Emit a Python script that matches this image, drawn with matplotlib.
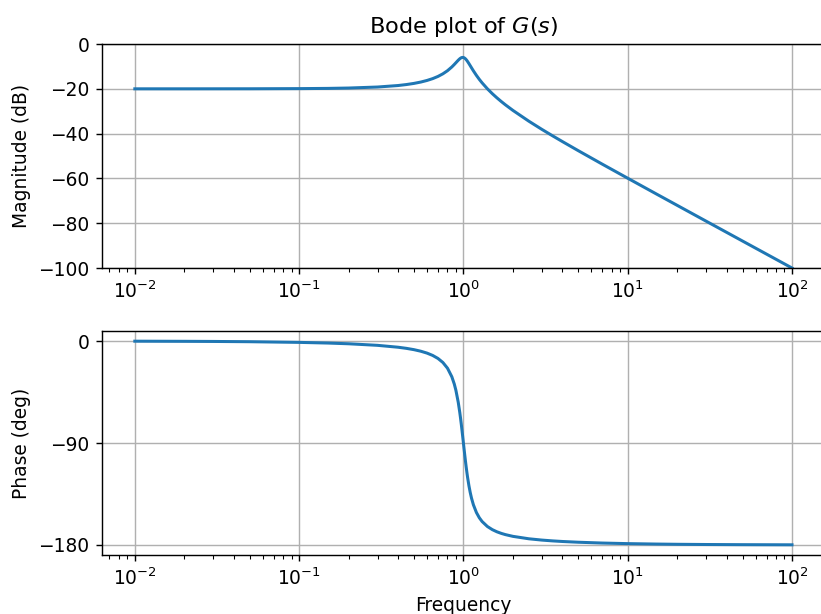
import matplotlib
matplotlib.use("Agg")
import matplotlib.pyplot as plt

# Values
freq = [0.01, 0.02, 0.03, 0.05, 0.1, 0.15, 0.2, 0.3, 0.4, 0.45, 0.5, 0.55,
        0.6, 0.65, 0.7, 0.75, 0.8, 0.85, 0.88, 0.9, 0.93, 0.95, 0.96, 0.97,
        0.98, 0.99, 1.0, 1.01, 1.02, 1.03, 1.04, 1.05, 1.06, 1.08, 1.1, 1.12,
        1.15, 1.2, 1.25, 1.3, 1.4, 1.5, 1.6, 1.7, 1.8, 2.0, 2.5, 3.0, 3.5,
        4.0, 5.0, 7.0, 10.0, 15.0, 20.0, 30.0, 50.0, 100.0]
mag_db = [-20.0, -20.0, -19.99, -19.98, -19.91, -19.81, -19.65, -19.20,
          -18.53, -18.09, -17.58, -16.98, -16.27, -15.45, -14.47, -13.30,
          -11.91, -10.25, -9.13, -8.36, -7.23, -6.59, -6.34, -6.14, -6.02,
          -5.98, -6.02, -6.15, -6.36, -6.64, -6.98, -7.37, -7.80, -8.71,
          -9.66, -10.60, -11.96, -14.00, -15.79, -17.35, -20.00, -22.18,
          -24.04, -25.67, -27.12, -29.62, -34.44, -38.09, -41.04, -43.53,
          -47.61, -53.63, -59.91, -67.01, -72.02, -79.08, -87.96, -100.0]
phase_deg = [-0.11, -0.23, -0.34, -0.57, -1.16, -1.76, -2.39, -3.77, -5.44,
             -6.44, -7.59, -8.96, -10.62, -12.69, -15.35, -18.92, -23.96,
             -31.49, -37.96, -43.45, -54.0, -62.84, -67.79, -73.06, -78.58,
             -84.26, -90.0, -95.68, -101.2, -106.47, -111.42, -116.02,
             -120.25, -127.61, -133.67, -138.64, -144.51, -151.39, -156.04,
             -159.35, -163.74, -166.5, -168.41, -169.8, -170.87, -172.41,
             -174.56, -175.71, -176.44, -176.95, -177.61, -178.33, -178.84,
             -179.23, -179.43, -179.62, -179.77, -179.89]
mag_ticks = [0, -20, -40, -60, -80, -100]
phase_ticks = [0, -90, -180]

plt.rcParams["font.size"] = 10.5

fig = plt.figure(figsize=(821 / 128, 614 / 128), dpi=128)
ax_mag = fig.add_axes([0.1242, 0.5635, 0.8805, 0.3648])
ax_ph = fig.add_axes([0.1242, 0.0961, 0.8805, 0.3648])

# Magnitude
ax_mag.semilogx(freq, mag_db, color="#1f77b4", linewidth=1.7)
ax_mag.set_ylim(-100, 0)
ax_mag.set_yticks(mag_ticks)
ax_mag.set_ylabel("Magnitude (dB)")
ax_mag.set_title("Bode plot of $G(s)$", fontsize=12.6)
ax_mag.grid(True)

# Phase
ax_ph.semilogx(freq, phase_deg, color="#1f77b4", linewidth=1.7)
ax_ph.set_yticks(phase_ticks)
ax_ph.set_ylabel("Phase (deg)")
ax_ph.set_xlabel("Frequency")
ax_ph.grid(True)

fig.savefig("out.png", dpi=128)
